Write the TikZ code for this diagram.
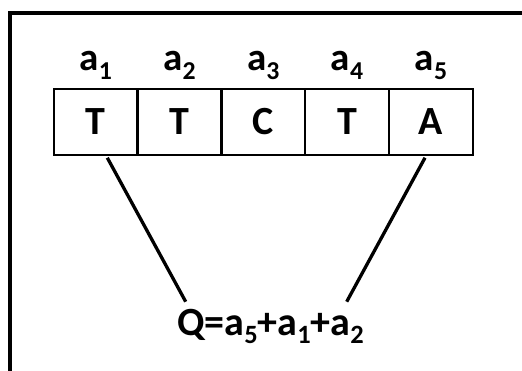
\documentclass[tikz,border=0pt]{standalone}
\usepackage{fontspec}
\setmainfont{Carlito}
\usepackage{graphicx}
\newcommand{\dsub}[1]{\raisebox{-0.22em}{\scalebox{0.66}{#1}}}
\begin{document}
\begin{tikzpicture}[x=1pt,y=-1pt,
  cellbox/.style={draw=black,line width=2.4pt,minimum width=83.8pt,minimum height=65.5pt,inner sep=0pt,outer sep=0pt,font=\fontsize{40}{42}\selectfont\bfseries},
  lbl/.style={anchor=base,inner sep=0pt,font=\fontsize{39}{42}\selectfont\bfseries},
  conn/.style={line width=3.3pt,black}]
\useasboundingbox (0,0) rectangle (522,371);
\clip (0,0) rectangle (522,371);
\fill[white] (0,0) rectangle (522,371);
\draw[line width=4pt] (10,13) rectangle (540,390);
\node[cellbox] (c1) at (95.7,122) {T};
\node[cellbox] (c2) at (179.5,122) {T};
\node[cellbox] (c3) at (263.3,122) {C};
\node[cellbox] (c4) at (347.1,122) {T};
\node[cellbox] (c5) at (430.9,122) {A};
\foreach \i in {1,...,5}{
  \node[lbl] (l\i) at ([yshift=-70.5pt]c\i.center |- 0,0) {a\dsub{\i}};
}
\node[lbl,font=\fontsize{40}{42}\selectfont\bfseries] (q) at (270.5,335) {Q=a\dsub{5}+a\dsub{1}+a\dsub{2}};
\coordinate (s1) at ([xshift=11.6pt,yshift=-3pt]c1.south);
\coordinate (s5) at ([xshift=-5.9pt,yshift=-3pt]c5.south);
\coordinate (e1) at (185.7,301.7);
\coordinate (e5) at (346.7,301.7);
\draw[conn] (s1) -- (e1);
\draw[conn] (s5) -- (e5);
\end{tikzpicture}
\end{document}
